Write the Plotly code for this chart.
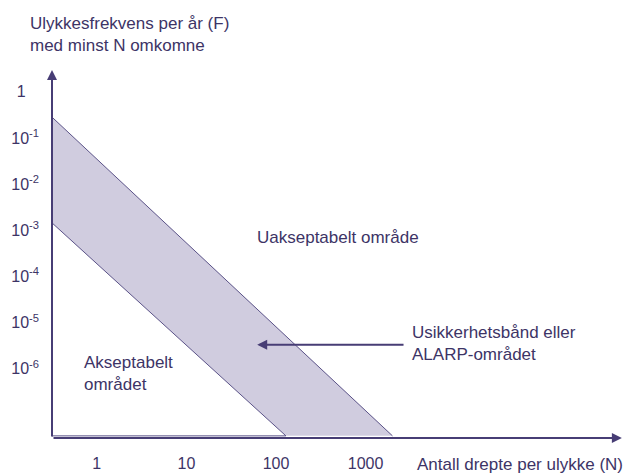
import plotly.graph_objects as go

# ---- data ----
x_ticks = [1, 10, 100, 1000]
x_tick_labels = ["1", "10", "100", "1000"]
y_ticks = [1, 1e-1, 1e-2, 1e-3, 1e-4, 1e-5, 1e-6]
y_tick_labels = ["1\u00a0\u00a0\u00a0", "10<sup>-1</sup>", "10<sup>-2</sup>", "10<sup>-3</sup>",
                 "10<sup>-4</sup>", "10<sup>-5</sup>", "10<sup>-6</sup>"]

upper_N = [0.316, 1995]       # upper limit of the ALARP band
upper_F = [0.282, 3.55e-8]
lower_N = [0.316, 129]        # lower limit of the ALARP band
lower_F = [1.45e-3, 3.55e-8]

x_range_log = [-0.5, 5.895]
y_range_log = [-7.496, 0.643]

TXT = "#3d3466"
AX = "#473d75"
EDGE = "#5a5287"
FILL = "#d0ccdf"
FONT = "Liberation Sans, Arial, sans-serif"

fig = go.Figure()

# band polygon
fig.add_trace(go.Scatter(
    x=upper_N + lower_N[::-1],
    y=upper_F + lower_F[::-1],
    fill="toself", fillcolor=FILL, mode="lines",
    line=dict(color=FILL, width=0), hoverinfo="skip", showlegend=False))
# band edges
fig.add_trace(go.Scatter(x=upper_N, y=upper_F, mode="lines",
                         line=dict(color=EDGE, width=1), showlegend=False, hoverinfo="skip"))
fig.add_trace(go.Scatter(x=lower_N, y=lower_F, mode="lines",
                         line=dict(color=EDGE, width=1), showlegend=False, hoverinfo="skip"))
# bottom edge of acceptable region
fig.add_trace(go.Scatter(x=[lower_N[0], lower_N[1]], y=[lower_F[1], lower_F[1]], mode="lines",
                         line=dict(color=EDGE, width=1), showlegend=False, hoverinfo="skip"))

annotations = []
# x axis arrow
annotations.append(dict(x=5.86, y=y_range_log[0], ax=x_range_log[0], ay=y_range_log[0],
                        xref="x", yref="y", axref="x", ayref="y", text="",
                        showarrow=True, arrowhead=2, arrowsize=1, arrowwidth=2, arrowcolor=AX))
# y axis arrow
annotations.append(dict(x=x_range_log[0], y=0.47, ax=x_range_log[0], ay=y_range_log[0],
                        xref="x", yref="y", axref="x", ayref="y", text="",
                        showarrow=True, arrowhead=2, arrowsize=1, arrowwidth=2, arrowcolor=AX))
# pointer arrow to the band
annotations.append(dict(x=1.79, y=-5.48, ax=3.44, ay=-5.48,
                        xref="x", yref="y", axref="x", ayref="y", text="",
                        showarrow=True, arrowhead=2, arrowsize=1, arrowwidth=2, arrowcolor=AX))

textfont = dict(family=FONT, size=17, color=TXT)
annotations += [
    dict(x=-0.0419, y=1.072, xref="paper", yref="paper", xanchor="left", yanchor="middle",
         align="left", showarrow=False, font=textfont,
         text="Ulykkesfrekvens per år (F)<br>med minst N omkomne"),
    dict(x=1.77, y=-3.145, xref="x", yref="y", xanchor="left", yanchor="middle",
         showarrow=False, font=textfont, text="Uakseptabelt område"),
    dict(x=3.50, y=-5.45, xref="x", yref="y", xanchor="left", yanchor="middle", align="left",
         showarrow=False, font=textfont, text="Usikkerhetsbånd eller<br>ALARP-området"),
    dict(x=-0.163, y=-6.09, xref="x", yref="y", xanchor="left", yanchor="middle", align="left",
         showarrow=False, font=textfont, text="Akseptabelt<br>området"),
    dict(x=1.0, y=-0.0718, xref="paper", yref="paper", xanchor="right", yanchor="middle",
         showarrow=False, font=textfont, text="Antall drepte per ulykke (N)"),
]

fig.update_layout(
    width=625, height=468,
    margin=dict(l=44, r=8, t=54, b=38, autoexpand=False),
    paper_bgcolor="white", plot_bgcolor="white",
    showlegend=False,
    annotations=annotations,
    xaxis=dict(type="log", range=x_range_log, tickvals=x_ticks, ticktext=x_tick_labels,
               showgrid=False, zeroline=False, showline=False, ticks="", automargin=False,
               ticklabelstandoff=14,
               tickfont=dict(family=FONT, size=16, color=TXT)),
    yaxis=dict(type="log", range=y_range_log, tickvals=y_ticks, ticktext=y_tick_labels,
               showgrid=False, zeroline=False, showline=False, ticks="", automargin=False,
               ticklabelstandoff=12,
               tickfont=dict(family=FONT, size=16, color=TXT)),
)

fig.write_html("out.html")
